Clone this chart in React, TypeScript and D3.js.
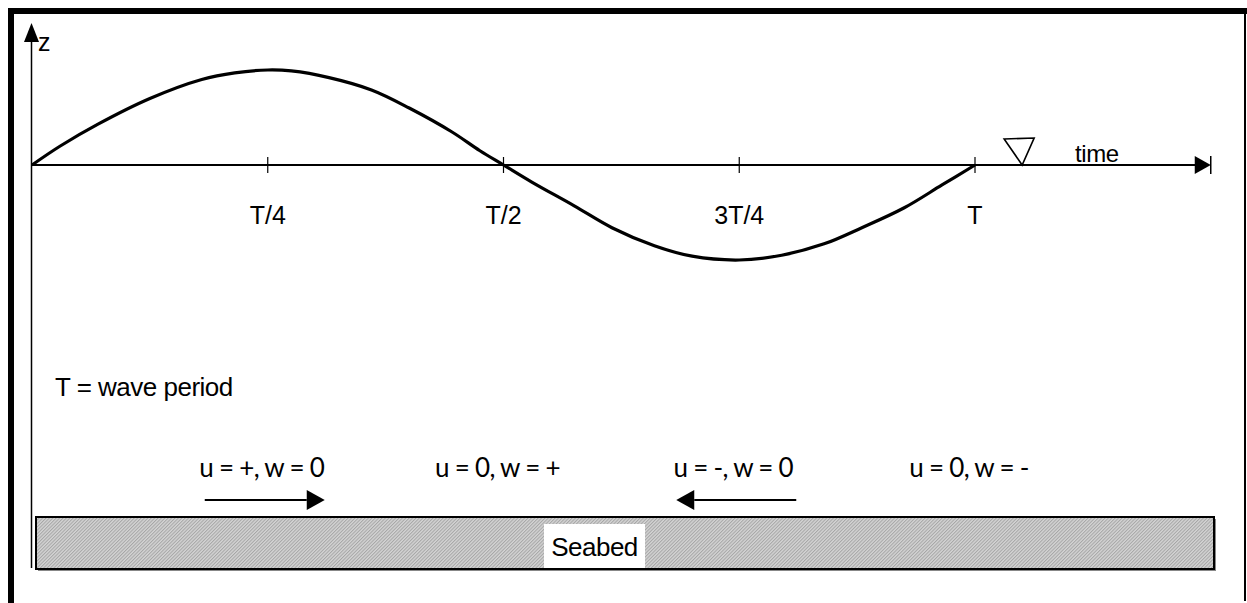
import React from "react";
import * as d3 from "d3";

// ---- data ----
const waveT = [0, 0.03, 0.07, 0.125, 0.18, 0.215, 0.25, 0.275, 0.315, 0.36, 0.4, 0.445, 0.475, 0.5, 0.53, 0.575, 0.615, 0.66, 0.7, 0.75, 0.795, 0.84, 0.88, 0.925, 0.965, 1.0];
const waveZ = [0, 0.2, 0.43, 0.7, 0.9, 0.97, 1.0, 0.99, 0.92, 0.79, 0.6, 0.35, 0.15, 0, -0.18, -0.43, -0.66, -0.85, -0.96, -1.0, -0.95, -0.83, -0.66, -0.45, -0.21, 0];
const tickValues = [0.25, 0.5, 0.75, 1.0];
const tickLabels = ["T/4", "T/2", "3T/4", "T"];
const flowLabels = ["u = +, w = 0", "u = 0, w = +", "u = -, w = 0", "u = 0, w = -"];
const flowArrows = [
  { t: 0.25, dir: 1 },
  { t: 0.75, dir: -1 },
];
const waterLevelT = 1.05;
const timeAxisEndT = 1.25;

export default function App() {
  const W = 1247;
  const H = 603;
  const x = d3.scaleLinear().domain([0, 1]).range([32, 975]);
  const y = d3.scaleLinear().domain([-1, 1]).range([260, 70]);
  const y0 = y(0);
  const pts: [number, number][] = waveT.map((t, i) => [t, waveZ[i]]);
  const line = d3
    .line<[number, number]>()
    .x((d) => x(d[0]))
    .y((d) => y(d[1]))
    .curve(d3.curveCatmullRom);
  const xEnd = x(timeAxisEndT);
  const arial = "'Liberation Sans', Arial, sans-serif";
  const humanist = "Lato, 'Open Sans', sans-serif";

  const seabed = { x: 36, y: 517, w: 1178, h: 52 };
  const wl = x(waterLevelT);

  return (
    <svg
      width={W}
      height={H}
      style={{ position: "absolute", left: 0, top: 0, display: "block", background: "#fff" }}
    >
      <defs>
        <pattern id="hatch" width="2.4" height="2.4" patternUnits="userSpaceOnUse" patternTransform="rotate(45)">
          <rect width="2.4" height="2.4" fill="#d4d4d4" />
          <rect width="1" height="2.4" fill="#a6a6a6" />
        </pattern>
      </defs>

      {/* frame */}
      <rect x={8} y={8} width={6} height={H - 8} fill="#000" />
      <rect x={8} y={8} width={W - 8} height={6} fill="#000" />
      <rect x={1244} y={8} width={2} height={593} fill="#000" />

      {/* z axis */}
      <line x1={31.5} y1={40} x2={31.5} y2={568} stroke="#000" strokeWidth={1.5} />
      <path d={`M31.5,23 L24,42 L39,42 Z`} fill="#000" />
      <text x={38} y={51} fontFamily={arial} fontSize={25} fill="#000">z</text>

      {/* time axis */}
      <line x1={x(0)} y1={y0} x2={xEnd - 12} y2={y0} stroke="#000" strokeWidth={1.8} />
      <path d={`M${xEnd},${y0} L${xEnd - 16},${y0 - 9} L${xEnd - 16},${y0 + 9} Z`} fill="#000" />
      <line x1={xEnd} y1={y0 - 9} x2={xEnd} y2={y0 + 9} stroke="#000" strokeWidth={1.5} />
      {tickValues.map((t, i) => (
        <g key={i}>
          <line x1={x(t)} y1={y0 - 8} x2={x(t)} y2={y0 + 8} stroke="#000" strokeWidth={1.2} />
          <text x={x(t)} y={224} textAnchor="middle" fontFamily={arial} fontSize={25} fill="#000">
            {tickLabels[i]}
          </text>
        </g>
      ))}
      <text x={1075} y={162} fontFamily={arial} fontSize={24} letterSpacing={-0.4} fill="#000">time</text>

      {/* water level marker */}
      <path
        d={`M${wl - 18},${y0 - 26} L${wl + 12},${y0 - 27} L${wl},${y0} Z`}
        fill="none"
        stroke="#000"
        strokeWidth={1.6}
        strokeLinejoin="miter"
      />

      {/* wave */}
      <path d={line(pts) || ""} fill="none" stroke="#000" strokeWidth={3.2} />

      {/* legend text */}
      <text x={55} y={396} fontFamily={arial} fontSize={26} letterSpacing={-0.5} fill="#000">T = wave period</text>

      {flowLabels.map((s, i) => (
        <text
          key={i}
          x={x(tickValues[i]) - 6}
          y={477}
          textAnchor="middle"
          fontFamily={humanist}
          fontSize={26}
          letterSpacing={-0.7}
          fill="#000"
        >
          {s}
        </text>
      ))}

      {flowArrows.map((a, i) => {
        const cx = x(a.t) - 3;
        const half = 60;
        const tip = cx + a.dir * half;
        const tail = cx - a.dir * half;
        const base = tip - a.dir * 18;
        return (
          <g key={i}>
            <line x1={tail} y1={500} x2={base} y2={500} stroke="#000" strokeWidth={1.8} />
            <path d={`M${tip},500 L${base},490 L${base},510 Z`} fill="#000" />
          </g>
        );
      })}

      {/* seabed */}
      <rect x={seabed.x + 2} y={seabed.y + 2} width={seabed.w} height={seabed.h} fill="#888" />
      <rect x={seabed.x} y={seabed.y} width={seabed.w} height={seabed.h} fill="url(#hatch)" stroke="#000" strokeWidth={2} />
      <rect x={544} y={524} width={101} height={44} fill="#fff" />
      <text x={594.5} y={556} textAnchor="middle" fontFamily={arial} fontSize={26} letterSpacing={-0.5} fill="#000">Seabed</text>
    </svg>
  );
}
